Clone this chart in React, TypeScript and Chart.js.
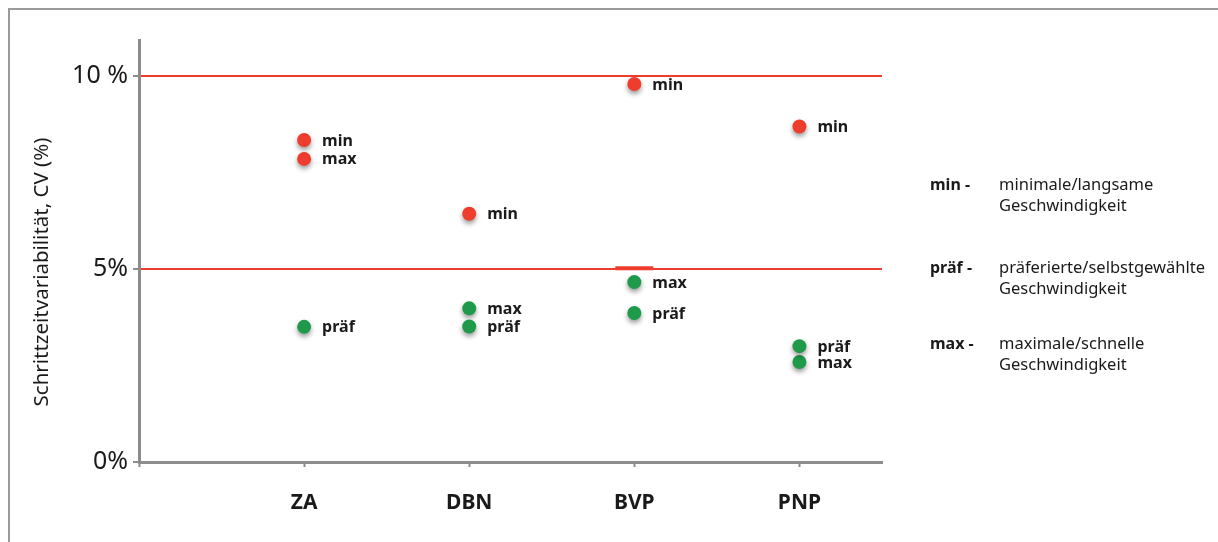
import React, { useEffect, useRef } from "react";
import { Chart, registerables } from "chart.js";

Chart.register(...registerables);

const categories = ["ZA", "DBN", "BVP", "PNP"];
const minValues = [8.34, 6.43, 9.79, 8.69];
const praefValues = [3.5, 3.51, 3.86, 3.0];
const maxValues = [7.85, 3.98, 4.66, 2.59];
const markerCategory = "BVP";
const markerValue = 5.02;
const yTicks = [0, 5, 10];
const yTickLabels = ["0%", "5%", "10 %"];
const legendKeys = ["min -", "präf -", "max -"];
const legendLines = [
  ["minimale/langsame", "Geschwindigkeit"],
  ["präferierte/selbstgewählte", "Geschwindigkeit"],
  ["maximale/schnelle", "Geschwindigkeit"],
];
const yTitle = "Schrittzeitvariabilität, CV (%)";

const RED = "#ee3d2d";
const GREEN = "#1f9a4a";
const GRAY = "#8c8c8c";
const FONT = "'Noto Sans', 'DejaVu Sans', sans-serif";

const toPoints = (vals: number[]) => vals.map((v, i) => ({ x: i + 1, y: v }));
const colorByValue = (ctx: any) => {
  const raw = ctx.raw as { y: number } | undefined;
  return raw && raw.y > 5 ? RED : GREEN;
};

export default function App() {
  const ref = useRef<HTMLCanvasElement | null>(null);

  useEffect(() => {
    if (!ref.current) return;

    const shadowPlugin = {
      id: "shadow",
      beforeDatasetDraw(chart: any, args: any) {
        const ds = chart.data.datasets[args.index] as any;
        chart.ctx.save();
        if (ds.pointLabel) {
          chart.ctx.shadowColor = "rgba(0,0,0,0.4)";
          chart.ctx.shadowBlur = 5;
          chart.ctx.shadowOffsetX = 0;
          chart.ctx.shadowOffsetY = 3;
        }
      },
      afterDatasetDraw(chart: any) {
        chart.ctx.restore();
      },
    };

    const labelsPlugin = {
      id: "pointLabels",
      afterDatasetsDraw(chart: any) {
        const ctx = chart.ctx as CanvasRenderingContext2D;
        ctx.save();
        ctx.font = `bold 16px ${FONT}`;
        ctx.fillStyle = "#1a1a1a";
        ctx.textBaseline = "middle";
        ctx.textAlign = "left";
        chart.data.datasets.forEach((ds: any, di: number) => {
          if (!ds.pointLabel) return;
          const meta = chart.getDatasetMeta(di);
          meta.data.forEach((el: any) => {
            ctx.fillText(ds.pointLabel, el.x + 18, el.y + 1);
          });
        });
        ctx.restore();
      },
    };

    const framePlugin = {
      id: "frameAndLegend",
      afterDraw(chart: any) {
        const ctx = chart.ctx as CanvasRenderingContext2D;
        ctx.save();
        ctx.strokeStyle = "#9a9a9a";
        ctx.lineWidth = 2;
        ctx.beginPath();
        ctx.moveTo(1, chart.height);
        ctx.lineTo(1, 1);
        ctx.lineTo(chart.width, 1);
        ctx.stroke();

        // y-axis title
        ctx.save();
        ctx.translate(34, 264);
        ctx.rotate(-Math.PI / 2);
        ctx.font = `20.5px ${FONT}`;
        ctx.fillStyle = "#1a1a1a";
        ctx.textAlign = "center";
        ctx.textBaseline = "middle";
        ctx.fillText(yTitle, 0, 0);
        ctx.restore();

        const keyX = 922;
        const descX = 991;
        const groupY = [177, 260, 336];
        const lineH = 21;
        ctx.textBaseline = "middle";
        ctx.textAlign = "left";
        ctx.fillStyle = "#1a1a1a";
        legendKeys.forEach((k, i) => {
          const y = groupY[i];
          ctx.font = `bold 16px ${FONT}`;
          ctx.fillText(k, keyX, y);
          ctx.font = `16.5px ${FONT}`;
          legendLines[i].forEach((t, j) => ctx.fillText(t, descX, y + j * lineH));
        });
        ctx.restore();
      },
    };

    const markerX = categories.indexOf(markerCategory) + 1;

    const chart = new Chart(ref.current, {
      type: "scatter",
      data: {
        datasets: [
          {
            label: "min",
            pointLabel: "min",
            data: toPoints(minValues),
            pointRadius: 7,
            pointHoverRadius: 7,
            borderWidth: 0,
            backgroundColor: colorByValue,
          } as any,
          {
            label: "präf",
            pointLabel: "präf",
            data: toPoints(praefValues),
            pointRadius: 7,
            pointHoverRadius: 7,
            borderWidth: 0,
            backgroundColor: colorByValue,
          } as any,
          {
            label: "max",
            pointLabel: "max",
            data: toPoints(maxValues),
            pointRadius: 7,
            pointHoverRadius: 7,
            borderWidth: 0,
            backgroundColor: colorByValue,
          } as any,
          {
            label: "marker",
            data: [{ x: markerX, y: markerValue }],
            pointStyle: "line",
            pointRadius: 19,
            pointHoverRadius: 19,
            borderWidth: 4,
            borderColor: RED,
            backgroundColor: RED,
          } as any,
        ],
      },
      options: {
        animation: false,
        responsive: false,
        maintainAspectRatio: false,
        events: [],
        layout: { padding: { top: 32, right: 336, left: 0, bottom: 0 } },
        plugins: {
          legend: { display: false },
          tooltip: { enabled: false },
        },
        scales: {
          x: {
            type: "linear",
            min: 0,
            max: 4.5,
            afterBuildTicks(scale: any) {
              scale.ticks = [0, 1, 2, 3, 4].map((v) => ({ value: v }));
            },
            afterFit(scale: any) {
              scale.height = 80;
            },
            ticks: {
              autoSkip: false,
              maxRotation: 0,
              padding: 23,
              color: "#1a1a1a",
              font: { family: FONT, size: 21, weight: "bold" },
              callback: (v: any) => (v >= 1 ? categories[Number(v) - 1] : ""),
            },
            grid: {
              drawOnChartArea: false,
              drawTicks: true,
              tickLength: 5,
              tickWidth: 2,
              tickColor: GRAY,
            },
            border: { display: true, color: GRAY, width: 3 },
          },
          y: {
            type: "linear",
            min: 0,
            max: 10.93,
            afterBuildTicks(scale: any) {
              scale.ticks = yTicks.map((v) => ({ value: v }));
            },
            afterFit(scale: any) {
              scale.width = 131;
            },
            ticks: {
              padding: 5,
              color: "#1a1a1a",
              font: { family: FONT, size: 25 },
              callback: (v: any) => yTickLabels[yTicks.indexOf(Number(v))] ?? "",
            },
            grid: {
              drawOnChartArea: true,
              drawTicks: true,
              tickLength: 6,
              tickWidth: 2,
              tickColor: GRAY,
              lineWidth: 2,
              color: (ctx: any) => (ctx.tick && ctx.tick.value === 0 ? "rgba(0,0,0,0)" : RED),
            },
            border: { display: true, color: GRAY, width: 3 },
            title: { display: false },
          },
        },
      } as any,
      plugins: [shadowPlugin, labelsPlugin, framePlugin],
    });

    return () => chart.destroy();
  }, []);

  return (
    <div style={{ position: "absolute", left: 8, top: 8, width: 1210, height: 534, overflow: "hidden" }}>
      <canvas ref={ref} width={1210} height={534} style={{ width: 1210, height: 534, display: "block" }} />
    </div>
  );
}
